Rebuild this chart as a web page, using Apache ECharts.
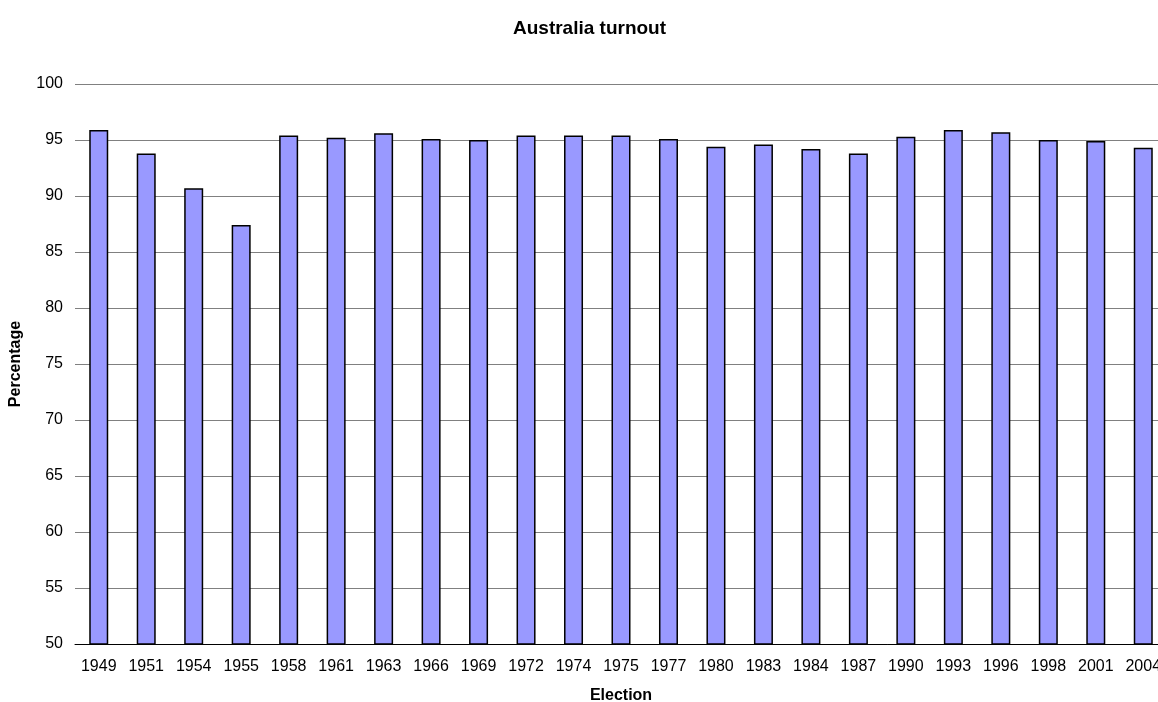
<!DOCTYPE html>
<html>
<head>
<meta charset="utf-8">
<script src="https://cdn.jsdelivr.net/npm/echarts@6/dist/echarts.min.js"></script>
<style>
  html, body { margin: 0; padding: 0; background: #fff; }
  #chart { width: 1158px; height: 702px; }
</style>
</head>
<body>
<div id="chart"></div>
<script>
// ========= data =========
const elections = ["1949","1951","1954","1955","1958","1961","1963","1966","1969","1972","1974","1975",
                   "1977","1980","1983","1984","1987","1990","1993","1996","1998","2001","2004"];
const turnout = [95.9, 93.8, 90.7, 87.4, 95.4, 95.2, 95.6, 95.1, 95.0, 95.4, 95.4, 95.4,
                 95.1, 94.4, 94.6, 94.2, 93.8, 95.3, 95.9, 95.7, 95.0, 94.9, 94.3];
const yTicks = [50, 100, 5]; // min, max, step

const chart = echarts.init(document.getElementById("chart"));

chart.setOption({
    animation: false,
    title: {
        text: "Australia turnout",
        left: 508,
        top: 14,
        textStyle: { fontFamily: "Liberation Sans, Arial", fontSize: 19, fontWeight: "bold", color: "#000" }
    },
    grid: { left: 75, right: -9, top: 84, bottom: 58, outerBoundsMode: "none", containLabel: false },
    xAxis: {
        type: "category",
        data: elections,
        name: "Election",
        nameLocation: "middle",
        nameGap: 44,
        nameTextStyle: { fontFamily: "Liberation Sans, Arial", fontSize: 16, fontWeight: "bold", color: "#000" },
        axisLine: { lineStyle: { color: "#000", width: 1 } },
        axisTick: { length: 5, lineStyle: { color: "#000" } },
        axisLabel: { margin: 15, fontFamily: "Liberation Sans, Arial", fontSize: 16, color: "#000", interval: 0 }
    },
    yAxis: {
        type: "value",
        min: yTicks[0],
        max: yTicks[1],
        interval: yTicks[2],
        name: "Percentage",
        nameLocation: "middle",
        nameGap: 51,
        nameRotate: 90,
        nameTextStyle: { fontFamily: "Liberation Sans, Arial", fontSize: 16, fontWeight: "bold", color: "#000" },
        axisLine: { show: false },
        axisTick: { show: false },
        axisLabel: { margin: 12, fontFamily: "Liberation Sans, Arial", fontSize: 16, color: "#000" },
        splitLine: { lineStyle: { color: "#808080", width: 1 } }
    },
    series: [{
        type: "bar",
        data: turnout,
        barWidth: 19,
        itemStyle: { color: "#9999ff", borderColor: "#000", borderWidth: 1.5 }
    }]
});
</script>
</body>
</html>
